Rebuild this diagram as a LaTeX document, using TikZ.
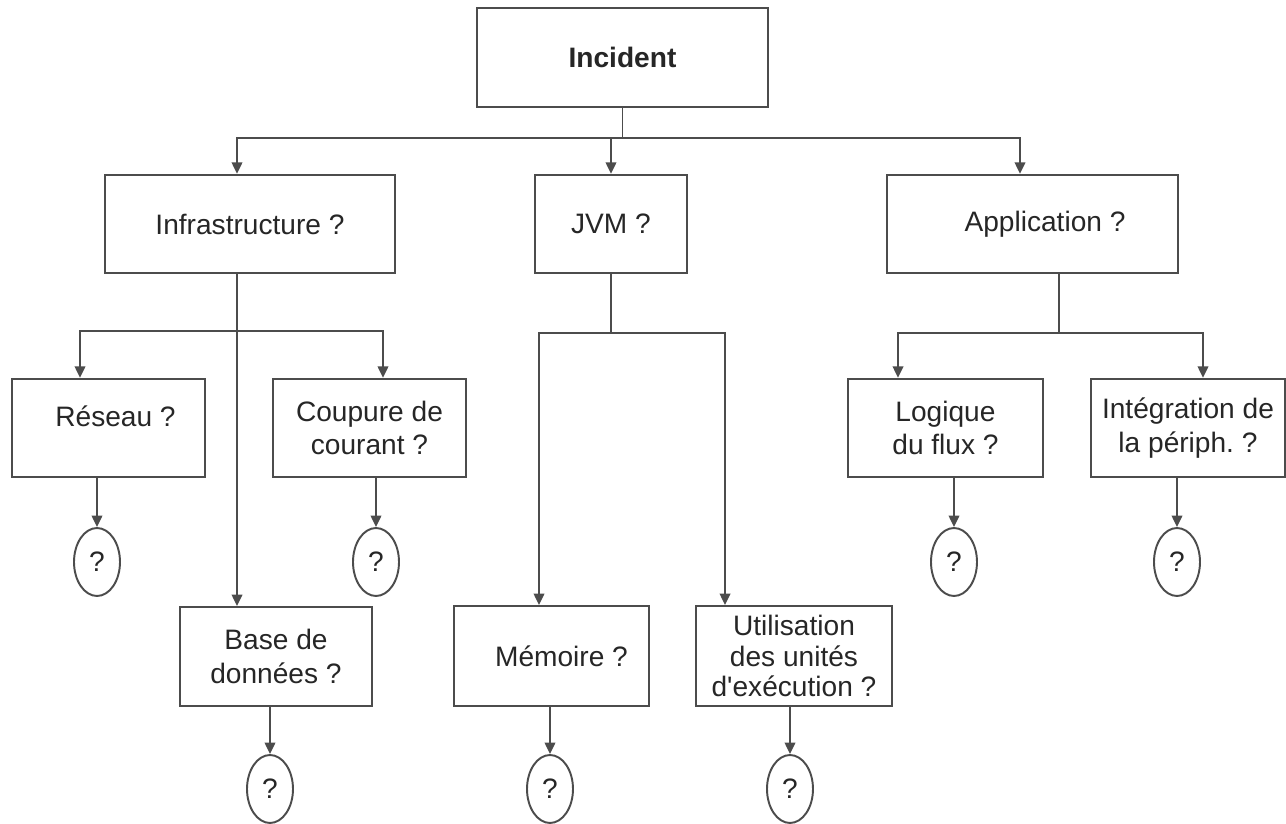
\documentclass[tikz,border=0pt]{standalone}
\usepackage{fontspec}
\setmainfont{Liberation Sans}
\usepackage{tikz}
\usetikzlibrary{arrows.meta, shapes.geometric}

\tikzset{
    box/.style={draw=black!70, line width=1.1pt, minimum width=#1, minimum height=1.97cm,
        inner sep=2pt, align=center, text=black!85, font=\fontsize{16}{19}\selectfont},
    qmark/.style={draw=black!70, line width=1.1pt, ellipse, minimum width=0.92cm,
        minimum height=1.36cm, inner sep=0pt, text=black!85, font=\fontsize{16}{19}\selectfont},
    link/.style={draw=black!70, line width=1.1pt}
}

\begin{document}
\frenchspacing
\begin{tikzpicture}[>={Triangle[length=6.5pt, width=6pt]}, x=0.02cm, y=-0.02cm]
    \useasboundingbox (0,0) rectangle (1286,824);

    % 1. Les cases
    \node[box=5.82cm, minimum height=1.98cm, font=\bfseries\fontsize{16}{19}\selectfont] (inc) at (622.5,57.5) {Incident};
    \node[box=5.8cm] (infra) at (250,224) {Infrastructure ?};
    \node[box=3.04cm] (jvm) at (611,224) {JVM ?};
    \node[box=5.82cm] (app) at (1032.5,224) {\hspace*{0.5cm}Application ?};

    \node[box=3.86cm] (res) at (108.5,428) {\hspace*{0.28cm}Réseau ?\rule[-13pt]{0pt}{0pt}};
    \node[box=3.86cm] (cou) at (369.5,428) {Coupure de\\courant ?};
    \node[box=3.9cm] (log) at (945.5,428) {Logique\\du flux ?};
    \node[box=3.88cm] (int) at (1188,428) {Intégration de\\la périph. ?};

    \node[box=3.84cm, minimum height=1.98cm] (bdd) at (276,656.5) {Base de\\données ?};
    \node[box=3.9cm, minimum height=2cm] (mem) at (551.5,656) {\hspace*{0.4cm}Mémoire ?};
    \node[box=3.92cm, minimum height=2cm, font=\fontsize{16}{17.6}\selectfont] (uti) at (794,656) {Utilisation\\des unités\\d\textquotesingle exécution ?};

    % 2. Les points d'interrogation
    \node[qmark] (qres) at (97,562) {?};
    \node[qmark] (qcou) at (376,562) {?};
    \node[qmark] (qlog) at (954,562) {?};
    \node[qmark] (qint) at (1177,562) {?};
    \node[qmark] (qbdd) at (270,789) {?};
    \node[qmark] (qmem) at (550,789) {?};
    \node[qmark] (quti) at (790,789) {?};

    % 3. Les liaisons
    \draw[link] (inc.south) -- ++(0,30) coordinate (incbus);
    \draw[link, ->] (incbus) -| ([xshift=-0.26cm]infra.north);
    \draw[link, ->] (incbus) -| ([xshift=-0.25cm]app.north);
    \draw[link, ->] (jvm.north |- incbus) -- (jvm.north);

    \draw[link, ->] ([xshift=-0.26cm]infra.south) -- ([xshift=-0.78cm]bdd.north);
    \coordinate (infrabus) at (237,331);
    \draw[link, ->] (infrabus) -| ([xshift=-0.57cm]res.north);
    \draw[link, ->] (infrabus) -| ([xshift=0.27cm]cou.north);

    \draw[link] (jvm.south) -- ++(0,59) coordinate (jvmbus);
    \draw[link, ->] (jvmbus) -| ([xshift=-0.25cm]mem.north);
    \draw[link, ->] (jvmbus) -| ([xshift=-1.38cm]uti.north);

    \draw[link] ([xshift=0.53cm]app.south) -- ++(0,59) coordinate (appbus);
    \draw[link, ->] (appbus) -| ([xshift=-0.95cm]log.north);
    \draw[link, ->] (appbus) -| ([xshift=0.3cm]int.north);

    % 4. Vers les points d'interrogation
    \foreach \b/\q in {res/qres, cou/qcou, log/qlog, int/qint, bdd/qbdd, mem/qmem, uti/quti}
        \draw[link, ->] (\q.north |- \b.south) -- (\q.north);
\end{tikzpicture}
\end{document}
